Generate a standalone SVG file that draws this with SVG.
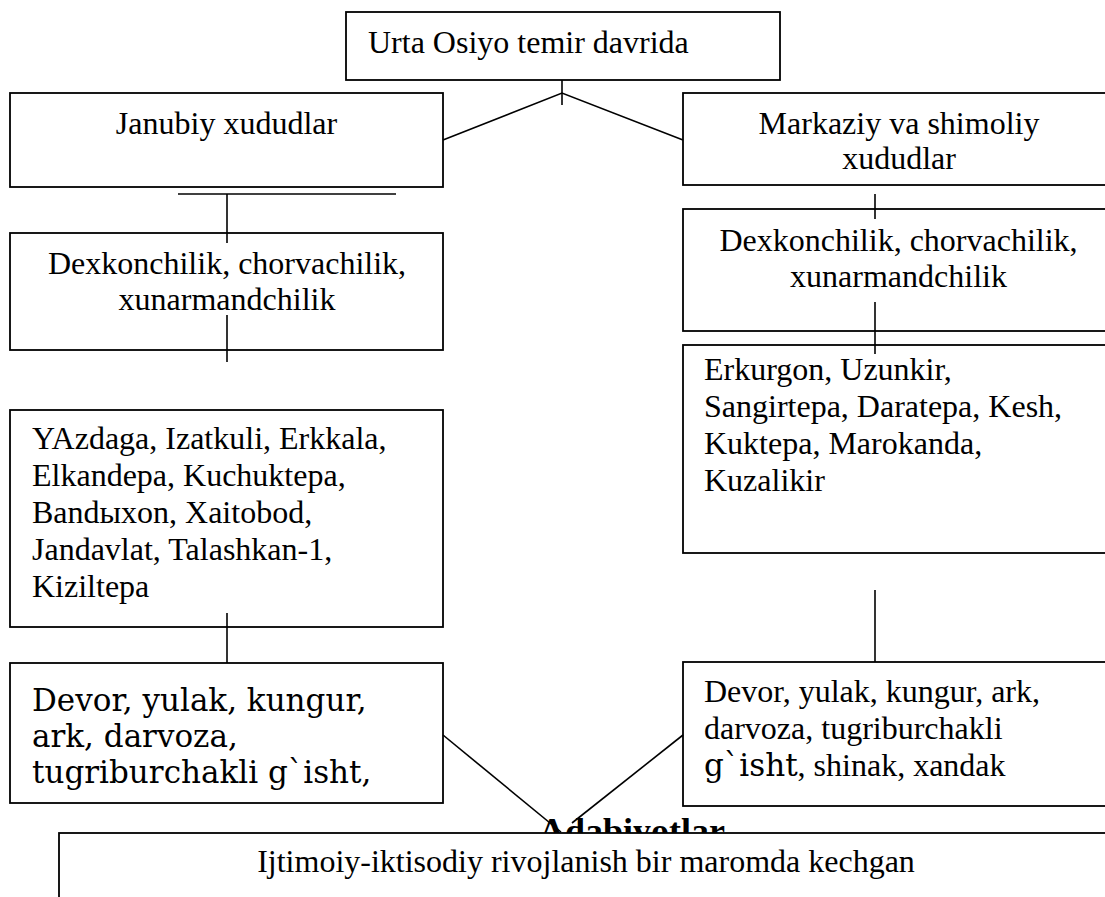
<svg xmlns="http://www.w3.org/2000/svg" width="1105" height="897" viewBox="0 0 1105 897">
<style>
.box{fill:#fff;stroke:#000;stroke-width:1.8}
.ln{fill:none;stroke:#000;stroke-width:1.6}
.t{font-family:"Liberation Serif","Times New Roman",serif;font-size:32px;fill:#000}
.c{text-anchor:middle}
.d{font-family:"DejaVu Serif",serif;font-size:31px}
.b{font-family:"Liberation Serif","Times New Roman",serif;font-size:36px;font-weight:bold;fill:#000}
</style>
<rect width="1105" height="897" fill="#fff"/>
<g id="top">
<rect class="box" x="346" y="12" width="434" height="68"/>
<text class="t" x="368" y="53">Urta Osiyo temir davrida</text>
</g>
<g id="janubiy">
<rect class="box" x="10" y="93" width="433" height="94"/>
<text class="t c" x="226.5" y="134">Janubiy xududlar</text>
</g>
<g id="markaziy">
<rect class="box" x="683" y="93" width="432" height="92"/>
<text class="t c" x="899" y="134">Markaziy va shimoliy</text>
<text class="t c" x="899" y="169">xududlar</text>
</g>
<g id="dex-left">
<rect class="box" x="10" y="233" width="433" height="117"/>
<text class="t c" x="227" y="274">Dexkonchilik, chorvachilik,</text>
<text class="t c" x="227" y="310">xunarmandchilik</text>
</g>
<g id="dex-right">
<rect class="box" x="683" y="209" width="432" height="122"/>
<text class="t c" x="898.5" y="251">Dexkonchilik, chorvachilik,</text>
<text class="t c" x="898.5" y="287">xunarmandchilik</text>
</g>
<g id="sites-left">
<rect class="box" x="10" y="410" width="433" height="217"/>
<text class="t" x="32" y="449">YAzdaga, Izatkuli, Erkkala,</text>
<text class="t" x="32" y="486">Elkandepa, Kuchuktepa,</text>
<text class="t" x="32" y="523">Bandыxon, Xaitobod,</text>
<text class="t" x="32" y="560">Jandavlat, Talashkan-1,</text>
<text class="t" x="32" y="597">Kiziltepa</text>
</g>
<g id="sites-right">
<rect class="box" x="683" y="345" width="432" height="208"/>
<text class="t" x="704" y="380">Erkurgon, Uzunkir,</text>
<text class="t" x="704" y="417">Sangirtepa, Daratepa, Kesh,</text>
<text class="t" x="704" y="454">Kuktepa, Marokanda,</text>
<text class="t" x="704" y="491">Kuzalikir</text>
</g>
<g id="devor-left">
<rect class="box" x="10" y="663" width="433" height="140"/>
<text class="t d" x="32" y="711">Devor, yulak, kungur,</text>
<text class="t d" x="32" y="747">ark, darvoza,</text>
<text class="t d" x="32" y="783">tugriburchakli g`isht,</text>
</g>
<g id="devor-right">
<rect class="box" x="683" y="662" width="432" height="144"/>
<text class="t" x="704" y="702">Devor, yulak, kungur, ark,</text>
<text class="t" x="704" y="739">darvoza, tugriburchakli</text>
<text class="t" x="704" y="776"><tspan class="d">g`isht</tspan>, shinak, xandak</text>
</g>
<g id="connectors">
<line class="ln" x1="562" y1="80" x2="562" y2="105"/>
<polyline class="ln" points="443,140 562,93 683,140"/>
<line class="ln" x1="178" y1="194" x2="396" y2="194"/>
<line class="ln" x1="227" y1="194" x2="227" y2="243"/>
<line class="ln" x1="227" y1="315" x2="227" y2="362"/>
<line class="ln" x1="227" y1="613" x2="227" y2="663"/>
<line class="ln" x1="875" y1="194" x2="875" y2="219"/>
<line class="ln" x1="875" y1="302" x2="875" y2="354"/>
<line class="ln" x1="875" y1="590" x2="875" y2="662"/>
<line class="ln" x1="443" y1="735" x2="561" y2="832"/>
<line class="ln" x1="683" y1="735" x2="572" y2="823"/>
</g>
<g id="adabiyotlar">
<text class="b" x="539" y="843">Adabiyotlar</text>
</g>
<g id="bottom">
<rect class="box" x="59" y="833" width="1060" height="80"/>
<text class="t c" x="586" y="872">Ijtimoiy-iktisodiy rivojlanish bir maromda kechgan</text>
</g>
</svg>
